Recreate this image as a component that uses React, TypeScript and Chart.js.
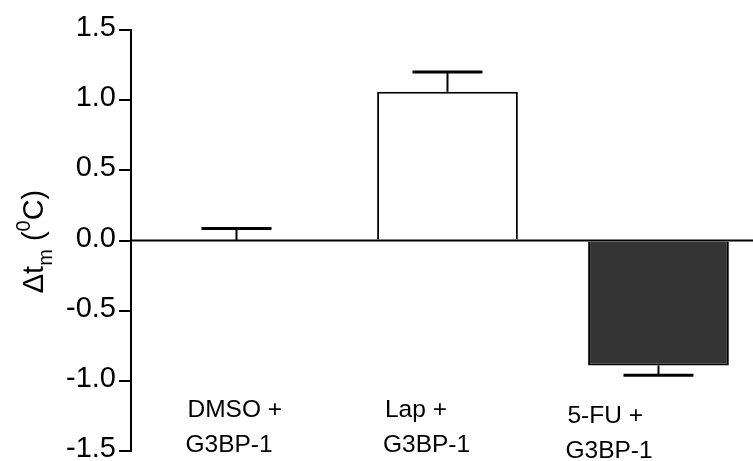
import React, { useEffect, useRef } from 'react';
import { Chart, registerables } from 'chart.js';

Chart.register(...registerables);

// ---- data ----
const categoryLine1 = ['DMSO +', 'Lap +', '5-FU +'];
const categoryLine2 = ['G3BP-1', 'G3BP-1', 'G3BP-1'];
const values = [0.0, 1.06, -0.89];
const errors = [0.085, 0.14, 0.07];
const yTicks = [-1.5, -1.0, -0.5, 0.0, 0.5, 1.0, 1.5];
const barColors = ['#ffffff', '#ffffff', '#333333'];
const titleMain1 = '\u0394t';
const titleSub = 'm';
const titleMain2 = ' (';
const titleSup = '0';
const titleMain3 = 'C)';

const FONT = "Arial, 'Liberation Sans', sans-serif";

const errorBarPlugin = {
  id: 'errorBars',
  afterDatasetsDraw(chart: any) {
    const ctx = chart.ctx;
    const meta = chart.getDatasetMeta(0);
    const yScale = chart.scales.y;
    const area = chart.chartArea;
    ctx.save();
    ctx.strokeStyle = '#000';
    // zero line
    const yz = yScale.getPixelForValue(0);
    ctx.lineWidth = 2;
    ctx.beginPath();
    ctx.moveTo(area.left, yz);
    ctx.lineTo(area.right, yz);
    ctx.stroke();
    meta.data.forEach((el: any, i: number) => {
      const v = values[i];
      const sign = v < 0 ? -1 : 1;
      const y0 = yScale.getPixelForValue(v);
      const y1 = yScale.getPixelForValue(v + sign * errors[i]);
      const x = el.x;
      ctx.lineWidth = 2;
      ctx.beginPath();
      ctx.moveTo(x, y0);
      ctx.lineTo(x, y1);
      ctx.stroke();
      ctx.lineWidth = 3;
      ctx.beginPath();
      ctx.moveTo(x - 35, y1);
      ctx.lineTo(x + 35, y1);
      ctx.stroke();
    });
    ctx.restore();
  },
};

const textPlugin = {
  id: 'texts',
  afterDraw(chart: any) {
    const ctx = chart.ctx;
    const xScale = chart.scales.x;
    const yScale = chart.scales.y;
    ctx.save();
    ctx.fillStyle = '#000';

    // y tick labels
    ctx.font = `29px ${FONT}`;
    ctx.textAlign = 'right';
    ctx.textBaseline = 'middle';
    yTicks.forEach((v) => {
      const y = yScale.getPixelForValue(v);
      ctx.fillText(v.toFixed(1), 116, y - 2);
    });

    // category labels, two lines each
    const dx = [-51, -64.5, -93];
    const dy = [0, 0, 5.5];
    ctx.font = `24.5px ${FONT}`;
    ctx.textAlign = 'left';
    ctx.textBaseline = 'alphabetic';
    categoryLine1.forEach((t, i) => {
      const cx = xScale.getPixelForValue(i);
      ctx.fillText(t, cx + dx[i] + 2, 417 + dy[i]);
      ctx.fillText(categoryLine2[i], cx + dx[i], 452 + dy[i]);
    });

    // y-axis title, rotated
    const big = `29px ${FONT}`;
    const small = `20px ${FONT}`;
    const parts = [
      { t: titleMain1, f: big, v: 0 },
      { t: titleSub, f: small, v: 9 },
      { t: titleMain2, f: big, v: 0 },
      { t: titleSup, f: small, v: -13 },
      { t: titleMain3, f: big, v: 0 },
    ];
    let total = 0;
    const widths = parts.map((p) => {
      ctx.font = p.f;
      const w = ctx.measureText(p.t).width;
      total += w;
      return w;
    });
    const area = chart.chartArea;
    const cy = (area.top + area.bottom) / 2;
    ctx.translate(43, cy + 1 + total / 2);
    ctx.rotate(-Math.PI / 2);
    let u = 0;
    parts.forEach((p, i) => {
      ctx.font = p.f;
      ctx.fillText(p.t, u, p.v);
      u += widths[i];
    });
    ctx.restore();
  },
};

export default function App() {
  const ref = useRef<HTMLCanvasElement>(null);
  useEffect(() => {
    if (!ref.current) return;
    const chart = new Chart(ref.current, {
      type: 'bar',
      data: {
        datasets: [
          {
            data: values.map((v, i) => ({ x: i, y: v })),
            backgroundColor: barColors,
            borderColor: '#000',
            borderWidth: 2,
            borderSkipped: 'start',
            categoryPercentage: 1,
            barPercentage: 0.667,
          },
        ],
      },
      options: {
        responsive: false,
        animation: false,
        devicePixelRatio: 1,
        layout: { padding: { top: 30, bottom: 10, left: 0, right: 0 } },
        plugins: { legend: { display: false }, tooltip: { enabled: false } },
        scales: {
          x: {
            type: 'linear',
            offset: false,
            min: -0.5,
            max: 2.448,
            display: false,
            afterBuildTicks: (axis: any) => {
              axis.ticks = categoryLine1.map((_, i) => ({ value: i }));
            },
          },
          y: {
            min: -1.5,
            max: 1.5,
            afterBuildTicks: (axis: any) => {
              axis.ticks = yTicks.map((v) => ({ value: v }));
            },
            afterFit: (s: any) => {
              s.width = 131;
              s.paddingTop = 0;
              s.paddingBottom = 0;
            },
            ticks: { display: false },
            grid: {
              color: 'rgba(0,0,0,0)',
              lineWidth: 2,
              tickColor: '#000',
              tickLength: 12,
              drawTicks: true,
            },
            border: { display: true, color: '#000', width: 2 },
          },
        },
      },
      plugins: [errorBarPlugin, textPlugin],
    });
    return () => chart.destroy();
  }, []);
  return (
    <div style={{ position: 'absolute', left: 0, top: 0, width: 753, height: 461, background: '#fff' }}>
      <canvas ref={ref} width={753} height={461} style={{ display: 'block' }} />
    </div>
  );
}
